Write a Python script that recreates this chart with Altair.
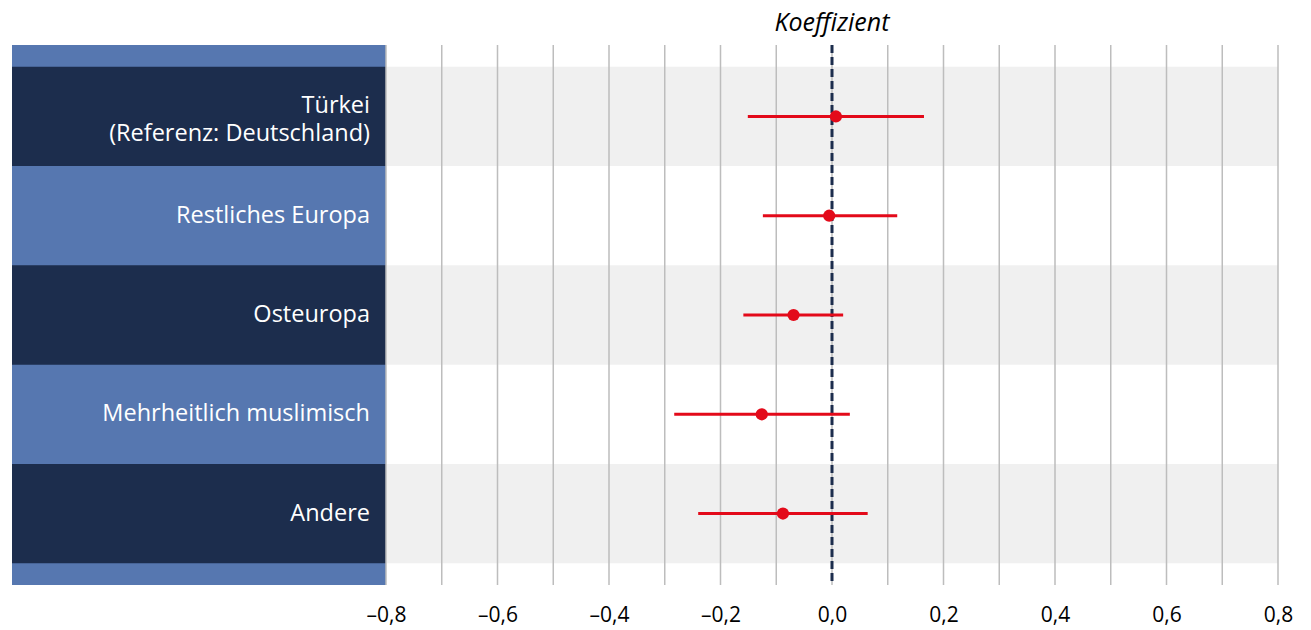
import altair as alt
import pandas as pd

categories = ["Türkei\n(Referenz: Deutschland)", "Restliches Europa", "Osteuropa",
              "Mehrheitlich muslimisch", "Andere"]
coef = [0.007, -0.005, -0.069, -0.126, -0.088]
lower = [-0.151, -0.124, -0.159, -0.283, -0.240]
upper = [0.165, 0.117, 0.020, 0.032, 0.064]
shaded = [True, False, True, False, True]
grid_values = [-0.8, -0.7, -0.6, -0.5, -0.4, -0.3, -0.2, -0.1, 0.0,
               0.1, 0.2, 0.3, 0.4, 0.5, 0.6, 0.7, 0.8]
tick_values = [-0.8, -0.6, -0.4, -0.2, 0.0, 0.2, 0.4, 0.6, 0.8]

NAVY = "#1C2D4D"
LIGHT = "#5677B0"
RED = "#E30A1A"
FONT = "Open Sans"

df = pd.DataFrame({"cat": categories, "coef": coef, "lo": lower, "hi": upper, "shade": shaded,
                   "multi": [("\n" in c) for c in categories]})
grid_df = pd.DataFrame({"g": grid_values})

W, H, LEFT = 892, 540, 374

yenc = alt.Y("cat:N", sort=categories,
             scale=alt.Scale(paddingInner=0, paddingOuter=0.22), axis=None)
xscale = alt.Scale(domain=[-0.8, 0.8], nice=False, zero=False)

label_expr = ("(datum.value < -0.00001 ? '–' : '') + "
              "replace(format(abs(datum.value), '.1f'), '.', ',')")

base = alt.Chart(df)

left_bg = base.mark_rect(color=LIGHT).encode(
    x=alt.value(-LEFT), x2=alt.value(0), y=alt.value(0), y2=alt.value(H)
).transform_filter("datum.cat == 'Andere'")

left_navy = base.transform_filter("datum.shade").mark_rect(color=NAVY).encode(
    x=alt.value(-LEFT), x2=alt.value(0), y=yenc
)

plot_bands = base.transform_filter("datum.shade").mark_rect(color="#F0F0F0").encode(
    x=alt.value(0), x2=alt.value(W), y=yenc
)

grid = alt.Chart(grid_df).mark_rule(color="#BDBDBD", strokeWidth=1.5).encode(
    x=alt.X("g:Q", scale=xscale,
            axis=alt.Axis(values=tick_values, labelExpr=label_expr, grid=False,
                          ticks=False, domain=False, labelFontSize=21,
                          labelFont=FONT, labelColor="#000000", labelPadding=19,
                          labelFlush=False, title=None)),
    y=alt.value(0), y2=alt.value(H)
)

zero = alt.Chart(pd.DataFrame({"z": [0.0]})).mark_rule(
    color=NAVY, strokeWidth=3, strokeDash=[8, 4]
).encode(x=alt.X("z:Q", scale=xscale), y=alt.value(0), y2=alt.value(H))

errbars = base.mark_rule(color=RED, strokeWidth=3).encode(
    x=alt.X("lo:Q", scale=xscale), x2="hi:Q", y=yenc
)

points = base.mark_circle(color=RED, size=150, opacity=1).encode(
    x=alt.X("coef:Q", scale=xscale), y=yenc
)

labels_single = base.transform_filter("!datum.multi").mark_text(
    color="white", align="right", baseline="middle",
    fontSize=23.5, font=FONT).encode(
    x=alt.value(-16), y=yenc, text="cat:N"
)

labels_multi = base.transform_filter("datum.multi").mark_text(
    color="white", align="right", baseline="middle", dy=-10,
    fontSize=23.5, font=FONT, lineBreak="\n", lineHeight=28).encode(
    x=alt.value(-16), y=yenc, text="cat:N"
)

chart = alt.layer(
    left_bg, left_navy, plot_bands, grid, zero, errbars, points,
    labels_single, labels_multi
).properties(
    width=W, height=H,
    title=alt.Title("Koeffizient", fontStyle="italic", fontWeight="normal",
                    fontSize=25, font=FONT, color="#000000", offset=8,
                    anchor="middle"),
    padding={"left": 12, "top": 10, "right": 5, "bottom": 4}
).configure_view(stroke=None)

chart.save("out.html", embed_options={"renderer": "svg", "actions": False})
